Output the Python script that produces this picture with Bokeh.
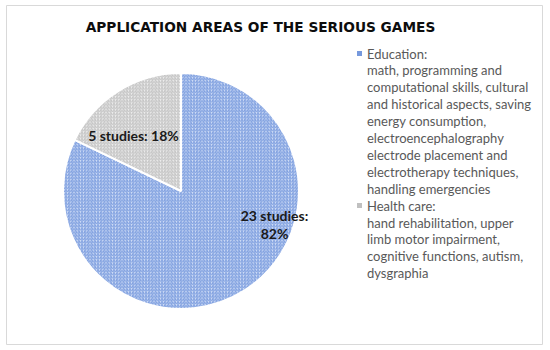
from bokeh.plotting import figure
from bokeh.models import ColumnDataSource, Range1d
from bokeh.core.properties import value
from bokeh.embed import file_html
from bokeh.resources import INLINE
import math

title = "APPLICATION AREAS OF THE SERIOUS GAMES"
categories = ["Education:", "Health care:"]
studies = [23, 5]
percents = ["82%", "18%"]
descriptions = [
    ["math, programming and",
     "computational skills, cultural",
     "and historical aspects, saving",
     "energy consumption,",
     "electroencephalography",
     "electrode placement and",
     "electrotherapy techniques,",
     "handling emergencies"],
    ["hand rehabilitation, upper",
     "limb motor impairment,",
     "cognitive functions, autism,",
     "dysgraphia"],
]
fill_colors = ["#d3dff7", "#efefef"]
hatch_colors = ["#7699dd", "#c0c0c0"]

W, H = 548, 348
p = figure(width=W, height=H, output_backend="svg", toolbar_location=None,
           x_range=Range1d(0, W), y_range=Range1d(0, H),
           x_axis_location=None, y_axis_location=None, min_border=0)
p.grid.visible = False
p.outline_line_color = None
p.background_fill_color = "white"

# chart-area border
p.rect(x=[274], y=[H - 174.5], width=536, height=339, fill_color=None,
       line_color="#d9d9d9", line_width=1)

# pie: first slice starts at 12 o'clock and runs clockwise
cx, cy, r = 180.5, H - 190.5, 118
total = sum(studies)
starts, ends = [], []
cum = 0
for v in studies:
    a0 = math.pi / 2 - 2 * math.pi * cum / total
    a1 = math.pi / 2 - 2 * math.pi * (cum + v) / total
    starts.append(a1)
    ends.append(a0)
    cum += v
src = ColumnDataSource(dict(start=starts, end=ends, fill=fill_colors, hatch=hatch_colors))
p.wedge(x=cx, y=cy, radius=r, start_angle="start", end_angle="end", source=src,
        fill_color="fill", hatch_color="hatch", hatch_pattern="/",
        hatch_scale=3.2, hatch_weight=1.0, line_color="white", line_width=2)

font = value("Lato")
# data labels
p.text(x=[cx + 93.5], y=[cy - 24.5], text=[f"{studies[0]} studies:"], text_font=font,
       text_font_size="14px", text_font_style="bold", text_color="#1a1a1a",
       text_align="center", text_baseline="middle")
p.text(x=[cx + 93.5], y=[cy - 42.5], text=[percents[0]], text_font=font,
       text_font_size="14px", text_font_style="bold", text_color="#1a1a1a",
       text_align="center", text_baseline="middle")
p.text(x=[cx - 47.5], y=[cy + 55.5], text=[f"{studies[1]} studies: {percents[1]}"], text_font=font,
       text_font_size="14px", text_font_style="bold", text_color="#1a1a1a",
       text_align="center", text_baseline="middle")

# title
p.text(x=[260], y=[H - 26], text=[title], text_font=value("DejaVu Sans"),
       text_font_size="13.7px", text_font_style="bold", text_color="#0d0d0d",
       text_align="center", text_baseline="middle")

# legend
lx, ly, step = 366.5, H - 53, 16.9
y = ly
for i, cat in enumerate(categories):
    p.rect(x=[359], y=[y], width=5, height=5, fill_color=hatch_colors[i],
           line_color=None)
    lines = [cat] + descriptions[i]
    ys = [y - k * step for k in range(len(lines))]
    p.text(x=[lx] * len(lines), y=ys, text=lines, text_font=font,
           text_font_size="13px", text_color="#595959",
           text_align="left", text_baseline="middle")
    y = ys[-1] - step

open("out.html", "w").write(file_html(p, INLINE))
